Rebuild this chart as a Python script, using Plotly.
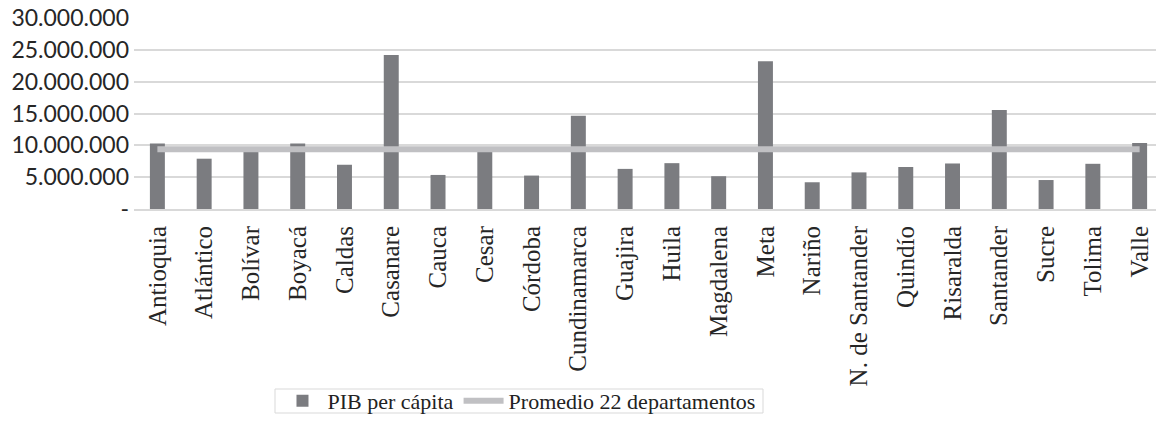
import plotly.graph_objects as go

departamentos = ["Antioquia", "Atlántico", "Bolívar", "Boyacá", "Caldas", "Casanare", "Cauca",
                 "Cesar", "Córdoba", "Cundinamarca", "Guajira", "Huila", "Magdalena", "Meta",
                 "Nariño", "N. de Santander", "Quindío", "Risaralda", "Santander", "Sucre",
                 "Tolima", "Valle"]
pib_per_capita = [10300000, 7900000, 9000000, 10300000, 6950000, 24200000, 5350000,
                  9000000, 5250000, 14650000, 6300000, 7200000, 5150000, 23200000,
                  4200000, 5750000, 6600000, 7150000, 15550000, 4550000,
                  7100000, 10350000]
promedio_22 = [9400000] * len(departamentos)

y_tickvals = [0, 5000000, 10000000, 15000000, 20000000, 25000000, 30000000]
y_ticktext = ["-", "5.000.000", "10.000.000", "15.000.000", "20.000.000", "25.000.000", "30.000.000"]

fig = go.Figure()
fig.add_trace(go.Bar(
    x=departamentos, y=pib_per_capita, name="PIB per cápita",
    marker=dict(color="#7B7C80", line=dict(width=0)), width=0.32,
))
fig.add_trace(go.Scatter(
    x=departamentos, y=promedio_22, name="Promedio 22 departamentos",
    mode="lines", line=dict(color="#C0C0C3", width=6),
))

# plot area: x 134..1156 px, y 18..209 px
PX_W = 1022.0
PX_H = 191.0

def px_x(px):
    return (px - 134) / PX_W

def px_y(py):
    return (209 - py) / PX_H

fig.update_layout(
    width=1156, height=422,
    margin=dict(l=134, r=0, t=18, b=213, autoexpand=False),
    paper_bgcolor="white", plot_bgcolor="white",
    showlegend=True,
    legend=dict(
        orientation="h", x=0.3767, xanchor="center", y=px_y(380), yanchor="top",
        borderwidth=0, bgcolor="rgba(0,0,0,0)",
        font=dict(family="Liberation Serif", size=22, color="#222222"),
        itemwidth=40, tracegroupgap=0, valign="middle",
    ),
    shapes=[dict(
        type="rect", xref="paper", yref="paper",
        x0=px_x(275), x1=px_x(763), y0=px_y(413), y1=px_y(389),
        line=dict(color="#D9D9D9", width=1), fillcolor="rgba(0,0,0,0)", layer="below",
    )],
    bargap=0.68,
)
fig.update_xaxes(
    type="category", range=[-0.5, 21.35], automargin=False,
    tickangle=-90,
    tickfont=dict(family="Liberation Serif", size=25, color="#262626"),
    showgrid=False, showline=True, linecolor="#D9D9D9", linewidth=2,
    ticks="", ticklabelstandoff=5,
)
fig.update_yaxes(
    range=[0, 30000000], automargin=False,
    tickvals=y_tickvals, ticktext=y_ticktext,
    tickfont=dict(family="Lato", size=23, color="#262626"),
    showgrid=True, gridcolor="#D9D9D9", gridwidth=2,
    zeroline=False, showline=False, ticks="", ticklabelstandoff=4,
)

fig.write_html("out.html", config={"displayModeBar": False},
               post_script="document.body.style.margin='0';")
